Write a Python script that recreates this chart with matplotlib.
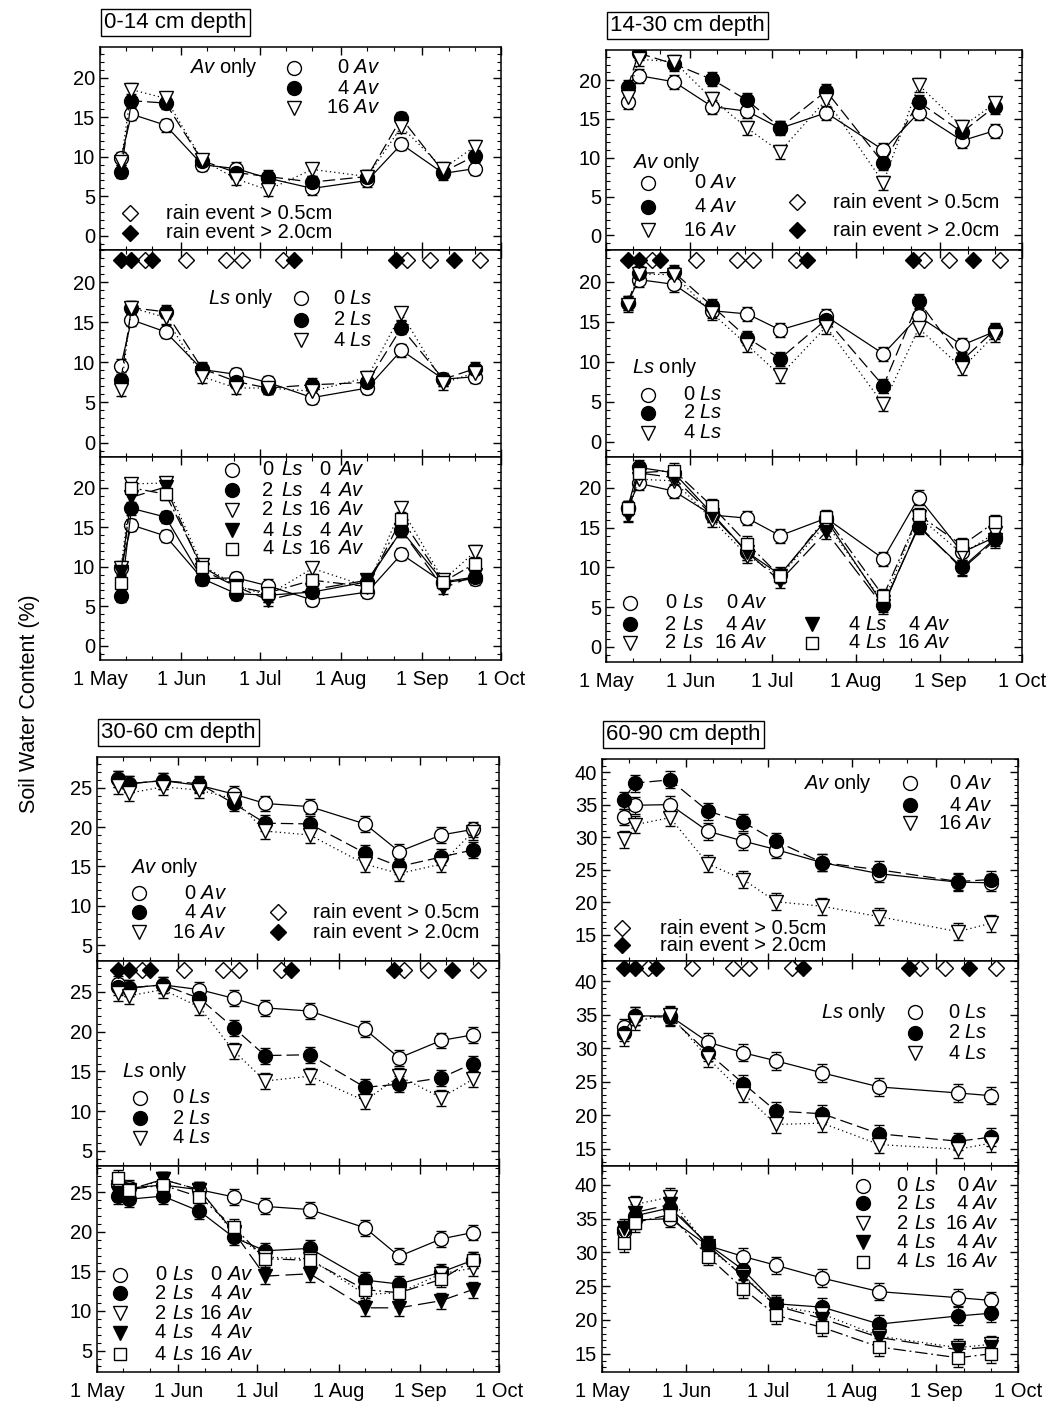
import numpy as np
import pandas as pd
import matplotlib
matplotlib.use("Agg")
import matplotlib.pyplot as plt
import matplotlib.dates as mdates
from matplotlib.ticker import MultipleLocator, FuncFormatter

plt.rcParams['font.family'] = ['Liberation Sans', 'DejaVu Sans']
plt.rcParams['mathtext.fontset'] = 'custom'
plt.rcParams['mathtext.rm'] = 'Liberation Sans'
plt.rcParams['mathtext.it'] = 'Liberation Sans:italic'
plt.rcParams['font.size'] = 14

# sampling dates (60-90 cm has no late-August sample)
dates = pd.to_datetime(['1996-05-09', '1996-05-13', '1996-05-26', '1996-06-09',
                        '1996-06-22', '1996-07-04', '1996-07-21', '1996-08-11',
                        '1996-08-24', '1996-09-09', '1996-09-21'])
dates_deep = dates.delete(8)

rain_small = pd.to_datetime(['1996-05-18', '1996-06-03', '1996-06-18', '1996-06-24',
                             '1996-07-10', '1996-08-26', '1996-09-04', '1996-09-23'])
rain_big = pd.to_datetime(['1996-05-09', '1996-05-13', '1996-05-21', '1996-07-14',
                           '1996-08-22', '1996-09-13'])

# 0-14 cm
d1_av0 = [9.8, 15.4, 14.0, 9.0, 8.5, 7.3, 6.0, 7.0, 11.6, 7.9, 8.5]
d1_av4 = [8.1, 17.1, 16.8, 9.5, 8.0, 7.5, 6.8, 7.5, 14.9, 8.1, 10.1]
d1_av16 = [9.3, 18.5, 17.4, 9.6, 7.2, 5.8, 8.4, 7.5, 13.8, 8.5, 11.3]
d1_ls0 = [9.6, 15.3, 13.8, 9.1, 8.5, 7.5, 5.6, 6.8, 11.5, 7.9, 8.2]
d1_ls2 = [7.8, 16.8, 16.3, 9.2, 7.6, 6.8, 7.2, 7.5, 14.3, 7.9, 9.2]
d1_ls4 = [6.6, 16.8, 15.6, 8.2, 6.8, 6.8, 6.4, 8.1, 16.1, 7.4, 8.7]
d1_c00 = [9.9, 15.3, 13.9, 8.5, 8.6, 7.6, 5.8, 6.8, 11.6, 8.0, 8.5]
d1_c24 = [6.3, 17.4, 16.3, 8.5, 6.6, 6.4, 6.8, 8.1, 14.6, 8.1, 8.7]
d1_c216 = [9.8, 20.5, 20.6, 10.2, 7.6, 6.4, 9.8, 7.5, 17.4, 8.3, 11.9]
d1_c44 = [9.4, 18.8, 20.1, 9.6, 7.5, 5.8, 7.1, 8.3, 14.6, 7.3, 8.9]
d1_c416 = [8.0, 20.0, 19.2, 10.0, 7.5, 6.7, 8.3, 7.5, 16.1, 8.1, 10.4]

# 14-30 cm
d2_av0 = [17.2, 20.6, 19.8, 16.6, 16.0, 13.8, 15.8, 11.0, 15.8, 12.2, 13.5]
d2_av4 = [19.1, 23.5, 22.1, 20.1, 17.4, 13.9, 18.6, 9.3, 17.2, 13.3, 16.6]
d2_av16 = [17.8, 22.7, 22.4, 17.6, 13.8, 10.8, 17.5, 6.8, 19.4, 14.0, 17.0]
d2_ls0 = [17.4, 20.3, 19.7, 16.4, 16.0, 14.0, 15.7, 11.0, 15.7, 12.1, 13.8]
d2_ls2 = [17.4, 21.1, 21.2, 17.0, 13.0, 10.4, 15.3, 7.0, 17.6, 10.2, 14.0]
d2_ls4 = [17.1, 21.0, 20.9, 16.1, 12.1, 8.3, 14.4, 4.7, 14.2, 9.2, 13.4]
d2_c00 = [17.5, 20.6, 19.6, 16.6, 16.2, 14.0, 16.2, 11.1, 18.8, 11.9, 13.8]
d2_c24 = [17.5, 22.6, 21.9, 16.8, 11.9, 9.1, 16.0, 5.3, 15.1, 10.0, 13.6]
d2_c216 = [16.8, 21.1, 20.9, 16.0, 11.5, 8.9, 15.5, 5.6, 16.4, 11.7, 14.3]
d2_c44 = [16.6, 21.9, 21.3, 16.6, 11.9, 8.3, 14.5, 5.1, 15.3, 9.8, 13.4]
d2_c416 = [17.5, 21.9, 22.2, 17.7, 13.0, 8.9, 16.3, 6.4, 16.6, 12.8, 15.7]

# 30-60 cm
d3_av0 = [26.1, 25.5, 25.9, 25.3, 24.2, 23.0, 22.6, 20.4, 16.9, 19.0, 19.7]
d3_av4 = [26.1, 25.5, 25.9, 25.5, 23.0, 20.5, 20.4, 16.7, 15.0, 16.2, 17.1]
d3_av16 = [25.2, 24.3, 25.1, 24.7, 23.6, 19.5, 19.0, 15.3, 14.1, 15.3, 19.4]
d3_ls0 = [26.0, 25.5, 25.9, 25.3, 24.2, 23.0, 22.6, 20.3, 16.7, 18.9, 19.6]
d3_ls2 = [25.6, 25.5, 25.9, 24.2, 20.5, 17.0, 17.1, 13.0, 13.4, 14.2, 16.0]
d3_ls4 = [24.9, 24.5, 25.3, 23.1, 17.6, 13.8, 14.4, 11.3, 14.4, 11.7, 14.0]
d3_c00 = [26.0, 25.5, 25.9, 25.3, 24.4, 23.2, 22.8, 20.5, 16.9, 19.1, 19.9]
d3_c24 = [24.5, 24.1, 24.5, 22.6, 19.3, 17.6, 17.9, 13.9, 13.4, 14.9, 16.4]
d3_c216 = [25.7, 25.1, 26.6, 25.3, 19.8, 16.8, 16.6, 12.1, 12.3, 14.7, 15.4]
d3_c44 = [24.9, 25.3, 26.6, 25.3, 20.0, 14.4, 14.7, 10.4, 10.4, 11.3, 12.7]
d3_c416 = [26.8, 25.3, 25.9, 24.4, 20.6, 16.6, 16.4, 12.7, 12.3, 14.0, 16.4]

# 60-90 cm
d4_av0 = [33.1, 34.9, 35.0, 30.9, 29.4, 28.1, 26.1, 24.4, 23.1, 23.0]
d4_av4 = [35.7, 38.3, 38.8, 34.0, 32.3, 29.4, 26.1, 25.0, 23.2, 23.5]
d4_av16 = [29.7, 31.9, 33.0, 25.9, 23.5, 20.1, 19.4, 17.8, 15.5, 16.8]
d4_ls0 = [33.1, 34.8, 34.8, 30.9, 29.3, 28.1, 26.3, 24.2, 23.3, 22.9]
d4_ls2 = [32.3, 34.8, 34.6, 29.3, 24.7, 20.6, 20.2, 17.2, 16.1, 16.7]
d4_ls4 = [31.6, 34.0, 35.0, 28.5, 23.2, 18.6, 18.8, 15.6, 14.9, 15.8]
d4_c00 = [33.1, 34.8, 35.0, 31.0, 29.4, 28.1, 26.2, 24.2, 23.3, 22.9]
d4_c24 = [33.4, 35.4, 36.6, 31.2, 27.4, 22.4, 21.9, 19.4, 20.6, 21.0]
d4_c216 = [32.7, 37.1, 38.2, 30.7, 26.6, 22.1, 20.9, 17.6, 15.9, 16.4]
d4_c44 = [33.6, 35.9, 37.1, 31.0, 26.4, 22.1, 20.2, 17.4, 15.6, 16.0]
d4_c416 = [31.4, 34.4, 35.6, 29.4, 24.6, 20.7, 18.9, 16.0, 14.4, 15.0]

# typical standard error per depth
errs = [0.8, 0.9, 1.0, 1.3]

W, H = 1047, 1408
fig = plt.figure(figsize=(W / 100, H / 100), dpi=100)

x_start = pd.Timestamp('1996-05-01')
x_end = pd.Timestamp('1996-10-01')

mk = {
    'oc': dict(marker='o', mfc='white', mec='black', ms=10),
    'fc': dict(marker='o', mfc='black', mec='black', ms=10),
    'ot': dict(marker='v', mfc='white', mec='black', ms=10),
    'ft': dict(marker='v', mfc='black', mec='black', ms=10),
    'os': dict(marker='s', mfc='white', mec='black', ms=9),
}
ls_solid = '-'
ls_dash = (0, (10, 4))
ls_dot = (0, (1, 2.5))
ls_dashdot = (0, (10, 3, 1.5, 3))
ls_long = (0, (14, 5))
key_fs = 14.5


def plot_series(ax, x, y, err, key, ls):
    ax.errorbar(x, y, yerr=err, color='black', lw=0.9, ls=ls, capsize=3.5,
                elinewidth=0.8, mew=1.0, zorder=3, **mk[key])


def style_axes(ax, ylim, yticks, bottom):
    ax.set_xlim(x_start, x_end)
    ax.set_ylim(*ylim)
    ax.set_yticks(yticks)
    ax.yaxis.set_minor_locator(MultipleLocator(1))
    ax.xaxis.set_major_locator(mdates.MonthLocator())
    ax.xaxis.set_minor_locator(mdates.DayLocator(bymonthday=[11, 21]))
    ax.xaxis.set_major_formatter(
        FuncFormatter(lambda v, p: f"1 {mdates.num2date(v):%b}"))
    ax.tick_params(which='both', direction='in', top=True, right=True,
                   labelsize=14.5, labelbottom=bottom)
    ax.tick_params(which='major', length=6, width=1)
    ax.tick_params(which='minor', length=3, width=0.8)
    ax.tick_params(axis='x', pad=7)
    for s in ax.spines.values():
        s.set_linewidth(1.1)


def simple_key(ax, header, hx, hy, ha, mx, rows_y, lx, labels, keys):
    ax.text(hx, hy, header, transform=ax.transAxes, ha=ha, va='center', fontsize=key_fs)
    for y, lab, k in zip(rows_y, labels, keys):
        ax.plot([mx], [y], transform=ax.transAxes, clip_on=False, ls='none',
                mew=1.0, **mk[k])
        ax.text(lx, y, lab, transform=ax.transAxes, ha='right', va='center',
                fontsize=key_fs)


def rain_key(ax, mx, rows_y, tx):
    ax.plot([mx], [rows_y[0]], 'D', mfc='white', mec='black', ms=8.5,
            transform=ax.transAxes, clip_on=False)
    ax.plot([mx], [rows_y[1]], 'D', mfc='black', mec='black', ms=8.5,
            transform=ax.transAxes, clip_on=False)
    ax.text(tx, rows_y[0], 'rain event > 0.5cm', transform=ax.transAxes,
            va='center', fontsize=key_fs)
    ax.text(tx, rows_y[1], 'rain event > 2.0cm', transform=ax.transAxes,
            va='center', fontsize=key_fs)


def combo_key(ax, entries, mx, n1x, lsx, n2x, avx):
    for y, k, n1, n2 in entries:
        ax.plot([mx], [y], transform=ax.transAxes, clip_on=False, ls='none',
                mew=1.0, **mk[k])
        ax.text(n1x, y, n1, transform=ax.transAxes, va='center', fontsize=key_fs)
        ax.text(lsx, y, 'Ls', transform=ax.transAxes, va='center',
                style='italic', fontsize=key_fs)
        ax.text(n2x, y, n2, transform=ax.transAxes, va='center', ha='right',
                fontsize=key_fs)
        ax.text(avx, y, 'Av', transform=ax.transAxes, va='center',
                style='italic', fontsize=key_fs)


def add_rain(ax, y):
    ax.plot(rain_small, [y] * len(rain_small), 'D', mfc='white', mec='black',
            ms=8.5, ls='none', clip_on=False, zorder=5)
    ax.plot(rain_big, [y] * len(rain_big), 'D', mfc='black', mec='black',
            ms=8.5, ls='none', clip_on=False, zorder=5)


def make_axes(x0, x1, ys):
    axs = []
    for yt, yb in zip(ys[:-1], ys[1:]):
        axs.append(fig.add_axes([x0 / W, 1 - yb / H, (x1 - x0) / W, (yb - yt) / H]))
    return axs


panels = [
    dict(name='0-14 cm depth', x=(100, 501), y=[47, 250, 457, 660], d=dates,
         av=(d1_av0, d1_av4, d1_av16), ls=(d1_ls0, d1_ls2, d1_ls4),
         c=(d1_c00, d1_c24, d1_c216, d1_c44, d1_c416),
         ylims=[(-1.8, 23.9), (-1.8, 24.0), (-1.8, 23.9)], yt=[0, 5, 10, 15, 20],
         rain_y=22.8),
    dict(name='14-30 cm depth', x=(606, 1022), y=[50, 250, 457, 662], d=dates,
         av=(d2_av0, d2_av4, d2_av16), ls=(d2_ls0, d2_ls2, d2_ls4),
         c=(d2_c00, d2_c24, d2_c216, d2_c44, d2_c416),
         ylims=[(-1.9, 23.9), (-1.9, 24.0), (-1.9, 23.9)], yt=[0, 5, 10, 15, 20],
         rain_y=22.8),
    dict(name='30-60 cm depth', x=(97, 499), y=[757, 961, 1166, 1372], d=dates,
         av=(d3_av0, d3_av4, d3_av16), ls=(d3_ls0, d3_ls2, d3_ls4),
         c=(d3_c00, d3_c24, d3_c216, d3_c44, d3_c416),
         ylims=[(3.0, 28.9), (3.1, 28.9), (2.3, 28.3)], yt=[5, 10, 15, 20, 25],
         rain_y=27.8),
    dict(name='60-90 cm depth', x=(602, 1018), y=[759, 961, 1166, 1372], d=dates_deep,
         av=(d4_av0, d4_av4, d4_av16), ls=(d4_ls0, d4_ls2, d4_ls4),
         c=(d4_c00, d4_c24, d4_c216, d4_c44, d4_c416),
         ylims=[(11.0, 42.0), (12.4, 43.0), (12.3, 42.8)], yt=[15, 20, 25, 30, 35, 40],
         rain_y=41.9),
]

all_axes = []
for i, p in enumerate(panels):
    top, mid, bot = make_axes(p['x'][0], p['x'][1], p['y'])
    all_axes.append((top, mid, bot))
    e = errs[i]
    for vals, k, ls in zip(p['av'], ['oc', 'fc', 'ot'], [ls_solid, ls_dash, ls_dot]):
        plot_series(top, p['d'], vals, e, k, ls)
    for vals, k, ls in zip(p['ls'], ['oc', 'fc', 'ot'], [ls_solid, ls_dash, ls_dot]):
        plot_series(mid, p['d'], vals, e, k, ls)
    for vals, k, ls in zip(p['c'], ['oc', 'fc', 'ot', 'ft', 'os'],
                           [ls_solid, ls_solid, ls_dot, ls_long, ls_dashdot]):
        plot_series(bot, p['d'], vals, e, k, ls)
    add_rain(mid, p['rain_y'])
    for ax, yl, b in zip((top, mid, bot), p['ylims'], (False, False, True)):
        style_axes(ax, yl, p['yt'], b)
    top.annotate(p['name'], xy=(0, 1), xycoords='axes fraction',
                 xytext=(3, 10), textcoords='offset points', fontsize=16,
                 ha='left', va='bottom',
                 bbox=dict(boxstyle='square,pad=0.15', fc='white', ec='black', lw=1))

av_labels = ['0 $Av$', '4 $Av$', '16 $Av$']
ls_labels = ['0 $Ls$', '2 $Ls$', '4 $Ls$']
keys3 = ['oc', 'fc', 'ot']

# 0-14 cm keys
A = all_axes[0]
simple_key(A[0], '$Av$ only', 0.395, 0.897, 'right', 0.483, [0.897, 0.798, 0.70],
           0.70, av_labels, keys3)
rain_key(A[0], 0.075, [0.182, 0.084], 0.165)
simple_key(A[1], '$Ls$ only', 0.4325, 0.768, 'right', 0.50, [0.768, 0.662, 0.565],
           0.68, ls_labels, keys3)
combo_key(A[2], [(0.936, 'oc', '0', '0'), (0.837, 'fc', '2', '4'),
                 (0.739, 'ot', '2', '16'), (0.640, 'ft', '4', '4'),
                 (0.547, 'os', '4', '16')], 0.33, 0.405, 0.452, 0.575, 0.595)

# 14-30 cm keys
B = all_axes[1]
simple_key(B[0], '$Av$ only', 0.0625, 0.435, 'left', 0.10, [0.335, 0.215, 0.10],
           0.315, av_labels, keys3)
rain_key(B[0], 0.46, [0.24, 0.10], 0.546)
simple_key(B[1], '$Ls$ only', 0.0625, 0.43, 'left', 0.10, [0.30, 0.213, 0.116],
           0.28, ls_labels, keys3)
combo_key(B[2], [(0.288, 'oc', '0', '0'), (0.185, 'fc', '2', '4'),
                 (0.093, 'ot', '2', '16')], 0.058, 0.142, 0.184, 0.315, 0.327)
combo_key(B[2], [(0.185, 'ft', '4', '4'), (0.093, 'os', '4', '16')],
          0.495, 0.582, 0.624, 0.755, 0.767)

# 30-60 cm keys
C = all_axes[2]
simple_key(C[0], '$Av$ only', 0.082, 0.46, 'left', 0.105, [0.333, 0.24, 0.142],
           0.323, av_labels, keys3)
rain_key(C[0], 0.45, [0.24, 0.142], 0.537)
simple_key(C[1], '$Ls$ only', 0.062, 0.46, 'left', 0.107, [0.332, 0.234, 0.137],
           0.286, ls_labels, keys3)
combo_key(C[2], [(0.471, 'oc', '0', '0'), (0.383, 'fc', '2', '4'),
                 (0.286, 'ot', '2', '16'), (0.19, 'ft', '4', '4'),
                 (0.087, 'os', '4', '16')], 0.057, 0.144, 0.188, 0.31, 0.327)

# 60-90 cm keys
D = all_axes[3]
simple_key(D[0], '$Av$ only', 0.649, 0.88, 'right', 0.74, [0.88, 0.772, 0.683],
           0.9375, av_labels, keys3)
rain_key(D[0], 0.048, [0.163, 0.079], 0.139)
simple_key(D[1], '$Ls$ only', 0.685, 0.751, 'right', 0.752, [0.751, 0.649, 0.551],
           0.928, ls_labels, keys3)
combo_key(D[2], [(0.903, 'oc', '0', '0'), (0.82, 'fc', '2', '4'),
                 (0.723, 'ot', '2', '16'), (0.631, 'ft', '4', '4'),
                 (0.534, 'os', '4', '16')], 0.627, 0.708, 0.75, 0.88, 0.893)

fig.text(30 / W, 0.5, 'Soil Water Content (%)', rotation=90, ha='center',
         va='center', fontsize=15.5)

fig.savefig('out.png', dpi=100)
